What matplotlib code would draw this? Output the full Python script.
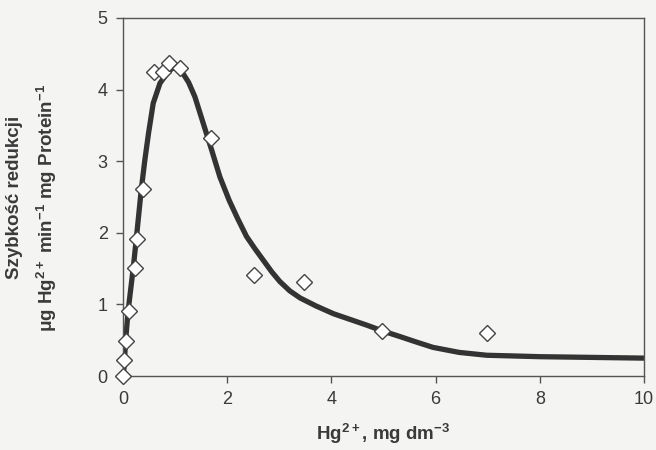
import matplotlib
matplotlib.use('Agg')
import matplotlib.pyplot as plt

plt.rcParams['font.family'] = ['Liberation Sans', 'DejaVu Sans']
plt.rcParams['mathtext.fontset'] = 'custom'
plt.rcParams['mathtext.rm'] = 'Liberation Sans:bold'
plt.rcParams['mathtext.bf'] = 'Liberation Sans:bold'
plt.rcParams['mathtext.default'] = 'bf'

# measured points
hg_conc = [0.0, 0.02, 0.06, 0.12, 0.23, 0.27, 0.39, 0.59, 0.77, 0.89, 1.09,
           1.69, 2.51, 3.47, 4.98, 6.99]
rate = [0.0, 0.23, 0.49, 0.91, 1.51, 1.92, 2.61, 4.25, 4.25, 4.37, 4.30,
        3.32, 1.41, 1.31, 0.63, 0.60]

# fitted curve
fit_x = [0.0, 0.02, 0.05, 0.10, 0.20, 0.26, 0.35, 0.42, 0.49, 0.58, 0.71,
         0.87, 0.95, 1.03, 1.13, 1.26, 1.38, 1.54, 1.70, 1.86, 2.04, 2.20,
         2.37, 2.53, 2.69, 2.85, 3.01, 3.20, 3.40, 3.70, 4.04, 4.36, 4.68,
         4.98, 5.32, 5.65, 5.95, 6.45, 6.98, 7.50, 8.00, 9.00, 10.0]
fit_y = [0.0, 0.12, 0.50, 0.92, 1.53, 1.95, 2.60, 3.02, 3.39, 3.81, 4.09,
         4.25, 4.30, 4.30, 4.25, 4.10, 3.90, 3.53, 3.16, 2.78, 2.45, 2.20,
         1.95, 1.78, 1.62, 1.46, 1.32, 1.19, 1.09, 0.98, 0.87, 0.79, 0.71,
         0.63, 0.55, 0.47, 0.40, 0.33, 0.29, 0.28, 0.27, 0.26, 0.25]

BG = '#f4f4f2'
INK = '#3a3a3a'

fig = plt.figure(figsize=(6.56, 4.5), dpi=100, facecolor=BG)
ax = fig.add_axes([0.1875, 0.1644, 0.7942, 0.7956], facecolor=BG)

ax.plot(fit_x, fit_y, color='#333333', linewidth=3.8, solid_joinstyle='round',
        solid_capstyle='butt', zorder=2)
ax.plot(hg_conc, rate, linestyle='none', marker='D', markersize=8.5,
        markerfacecolor='white', markeredgecolor='#444444', markeredgewidth=1.0,
        clip_on=False, zorder=3)

ax.set_xlim(0, 10)
ax.set_ylim(0, 5)
ax.set_xticks([0, 2, 4, 6, 8, 10])
ax.set_yticks([0, 1, 2, 3, 4, 5])
ax.tick_params(direction='out', length=5, width=1, color='#555555',
               labelsize=13, labelcolor=INK, pad=6)
for side in ['top', 'right', 'bottom', 'left']:
    ax.spines[side].set_color('#555555')
    ax.spines[side].set_linewidth(1.0)

ax.set_xlabel('Hg$^{2+}$, mg dm$^{-3}$', fontsize=13.5, fontweight='bold',
              color=INK, labelpad=10)
ax.text(-0.209, 0.5, 'Szybkość redukcji', transform=ax.transAxes, rotation=90,
        ha='center', va='center', fontsize=13.5, fontweight='bold', color=INK)
ax.text(-0.146, 0.47, 'μg Hg$^{2+}$ min$^{-1}$ mg Protein$^{-1}$',
        transform=ax.transAxes, rotation=90, ha='center', va='center',
        fontsize=13.5, fontweight='bold', color=INK)

fig.savefig('out.png', dpi=100, facecolor=BG)
